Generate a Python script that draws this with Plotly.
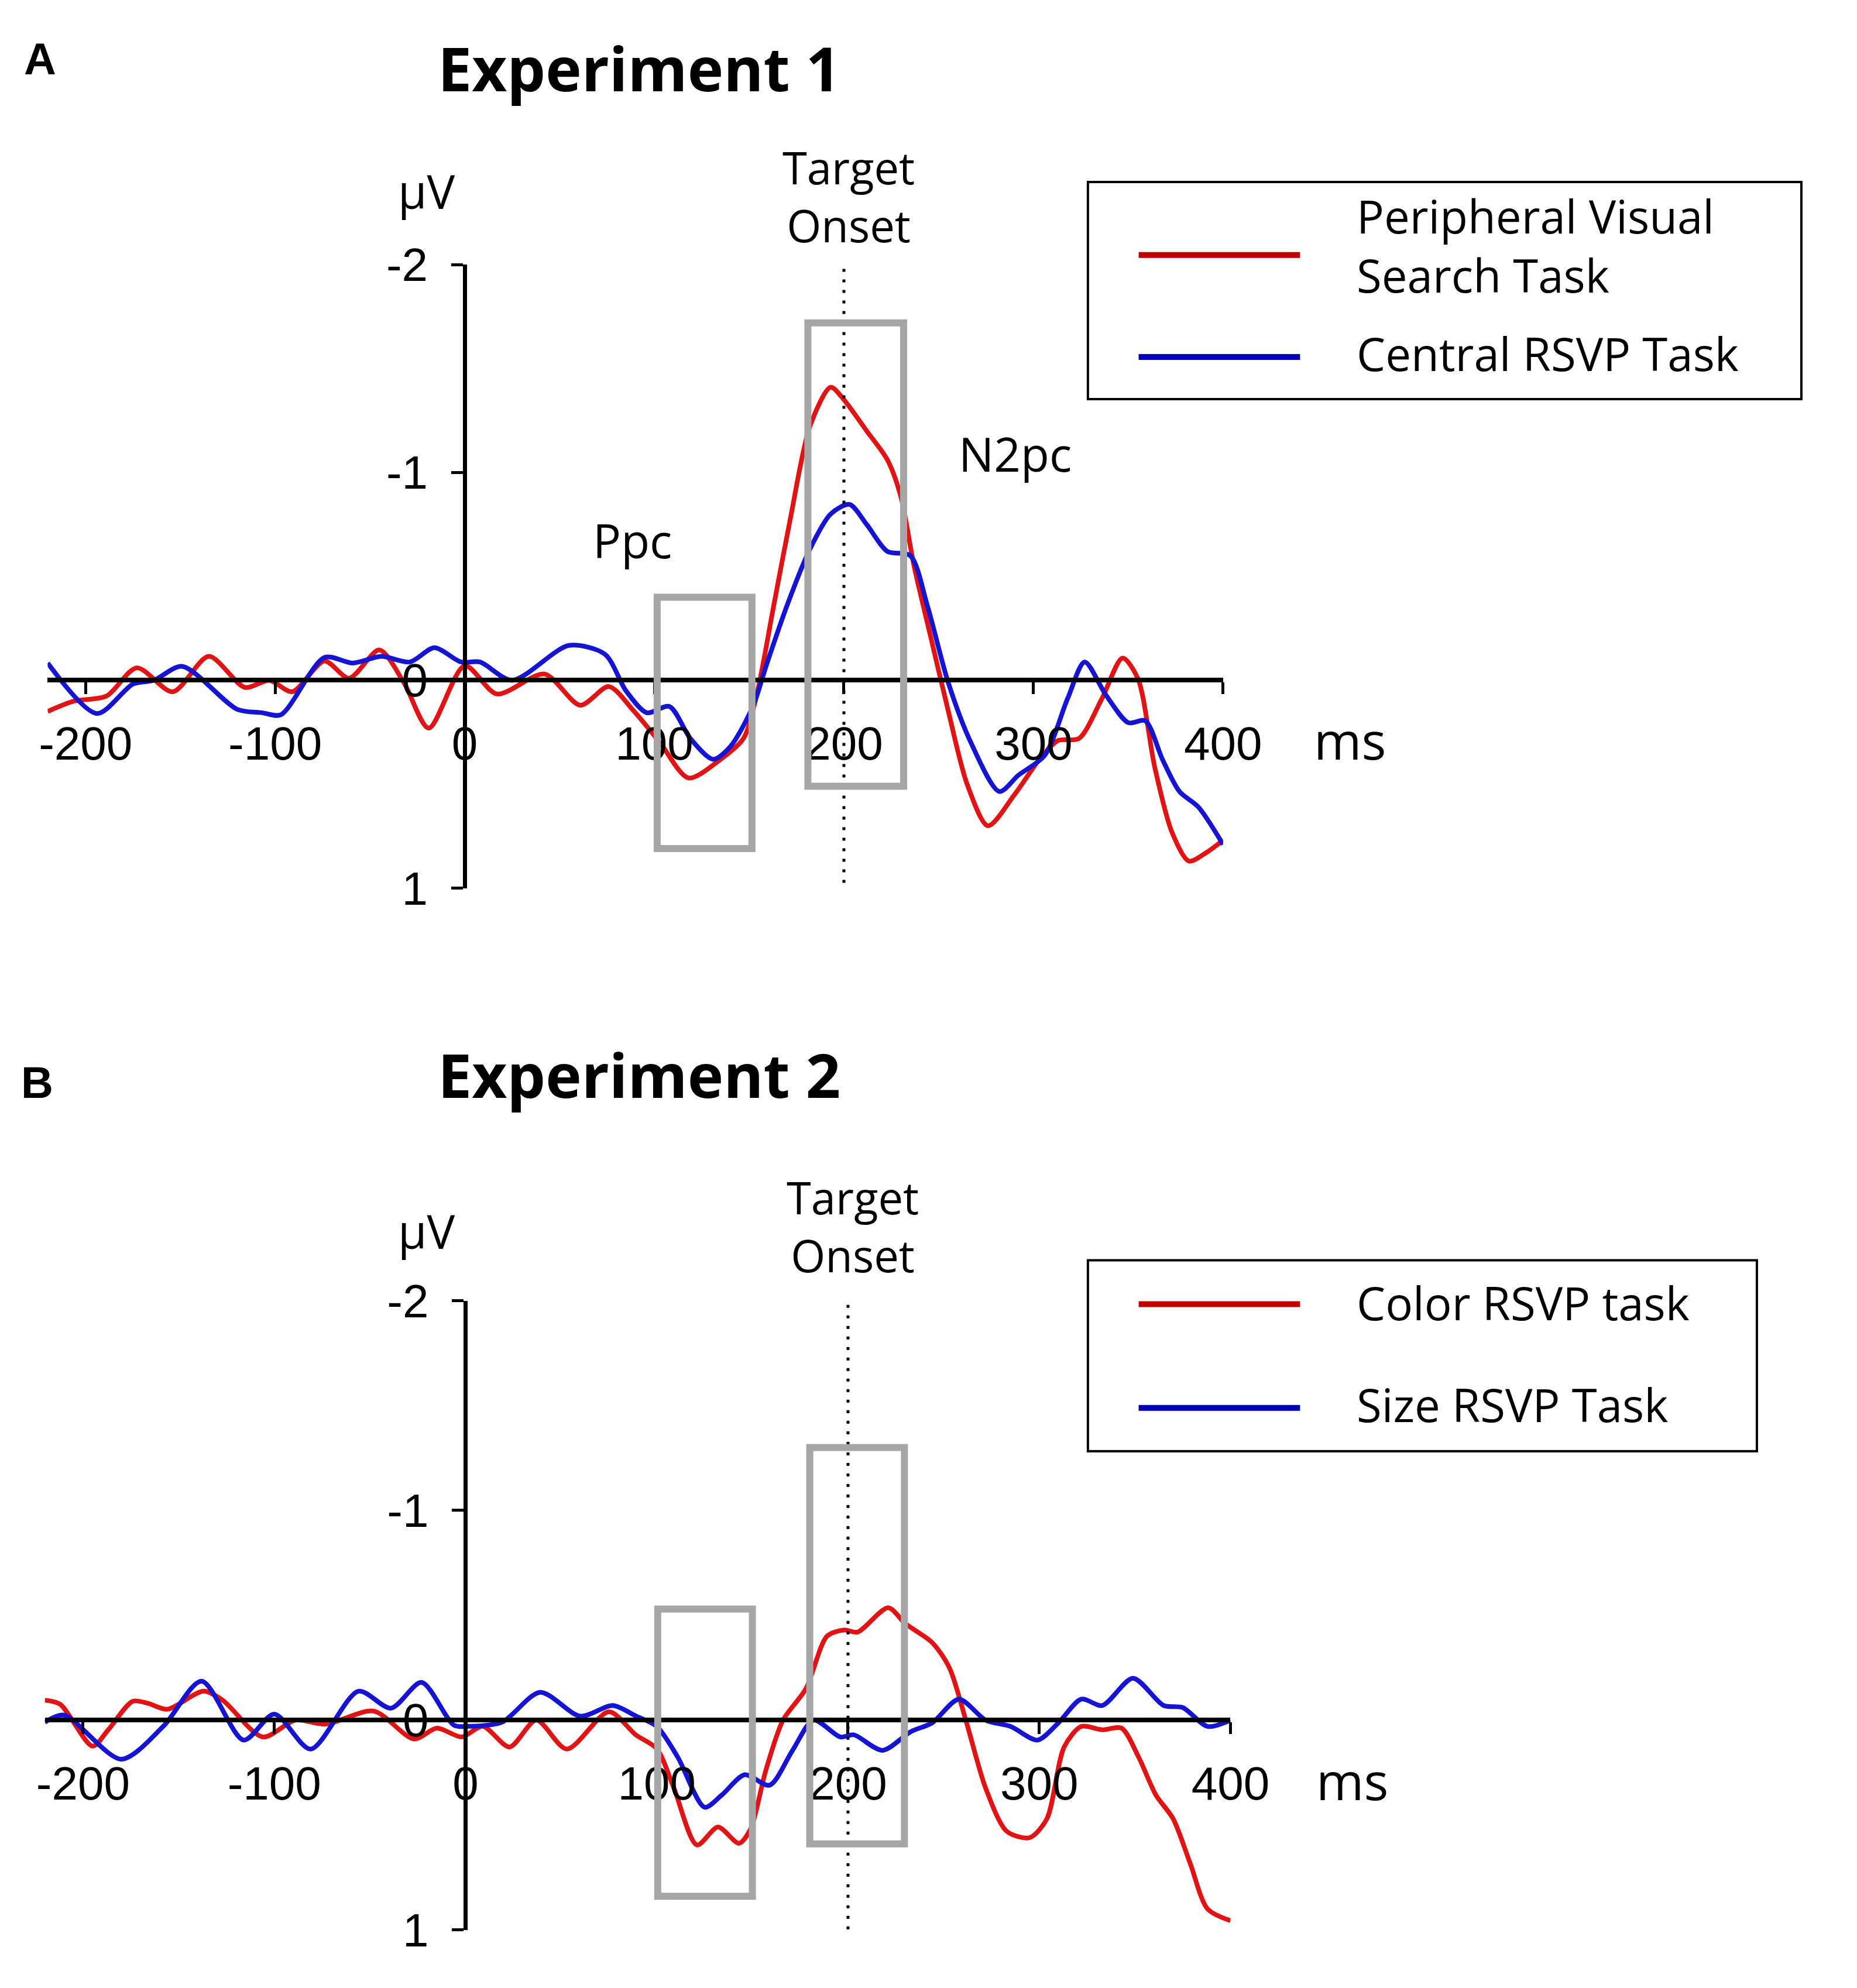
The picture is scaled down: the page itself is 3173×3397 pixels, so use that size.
import plotly.graph_objects as go

W, H = 3173, 3397

# ---- data (µV, positive plotted downward) ----
red_a_t = [-220, -206, -189, -173, -154, -135, -116, -103, -91, -74, -61, -45, -32, -19, 0, 17, 42, 61, 76, 89,
           103, 118, 135, 147, 154, 163, 172, 182, 193, 200, 212, 223, 230, 237, 246, 255, 265, 276, 290, 304,
           313, 324, 336, 347, 355, 364, 373, 382, 391, 400]
red_a_v = [0.15, 0.10, 0.076, -0.06, 0.055, -0.115, 0.034, 0.0, 0.055, -0.093, -0.01, -0.146, 0.013, 0.23, -0.07,
           0.066, -0.03, 0.12, 0.03, 0.146, 0.30, 0.47, 0.38, 0.28, 0.07, -0.36, -0.79, -1.22, -1.41, -1.35,
           -1.20, -1.06, -0.885, -0.55, -0.20, 0.146, 0.50, 0.70, 0.55, 0.37, 0.29, 0.28, 0.09, -0.107, -0.01,
           0.42, 0.73, 0.87, 0.83, 0.77]

blue_a_t = [-220, -194, -175, -164, -149, -120, -107, -97, -74, -59, -44, -29, -16, -2, 8, 25, 55, 74, 85, 96,
            108, 119, 131, 140, 152, 159, 170, 182, 193, 203, 212, 223, 235, 244, 255, 267, 282, 292, 306, 318,
            327, 338, 350, 359, 368, 377, 387, 400]
blue_a_v = [-0.083, 0.16, 0.018, 0.0, -0.067, 0.14, 0.156, 0.166, -0.11, -0.083, -0.115, -0.088, -0.157, -0.088,
            -0.088, 0.0, -0.168, -0.125, 0.05, 0.156, 0.126, 0.28, 0.38, 0.32, 0.126, -0.07, -0.36, -0.63, -0.80,
            -0.846, -0.75, -0.62, -0.60, -0.36, 0.01, 0.30, 0.535, 0.457, 0.36, 0.088, -0.088, 0.068, 0.204,
            0.195, 0.38, 0.535, 0.61, 0.79]

red_b_t = [-220, -212, -195, -187, -174, -166, -156, -137, -127, -106, -89, -73, -48, -27, -15, -2, 9, 23, 37, 53,
           75, 89, 100, 109, 121, 132, 143, 149, 157, 166, 178, 189, 198, 205, 221, 230, 244, 253, 262, 272,
           283, 295, 304, 313, 322, 333, 343, 352, 361, 370, 379, 388, 400]
red_b_v = [-0.095, -0.076, 0.124, 0.048, -0.09, -0.08, -0.052, -0.138, -0.095, 0.08, 0.0, 0.019, -0.043, 0.09,
           0.038, 0.08, 0.029, 0.128, 0.0, 0.138, -0.04, 0.07, 0.136, 0.325, 0.595, 0.51, 0.587, 0.52, 0.24,
           0.0, -0.15, -0.40, -0.43, -0.42, -0.536, -0.46, -0.37, -0.25, 0.013, 0.325, 0.53, 0.56, 0.47, 0.128,
           0.03, 0.046, 0.038, 0.177, 0.357, 0.47, 0.685, 0.90, 0.956]

blue_b_t = [-220, -210, -180, -158, -138, -116, -100, -81, -56, -39, -23, -6, 2, 19, 39, 60, 77, 89, 100, 111,
            125, 134, 146, 159, 171, 182, 196, 203, 218, 233, 244, 258, 272, 285, 299, 310, 322, 333, 349, 365,
            375, 388, 400]
blue_b_v = [0.01, -0.024, 0.186, 0.029, -0.186, 0.095, -0.029, 0.138, -0.138, -0.057, -0.18, 0.024, 0.029, 0.01,
            -0.133, -0.019, -0.07, -0.02, 0.03, 0.177, 0.415, 0.357, 0.26, 0.31, 0.144, 0.0, 0.08, 0.07, 0.144,
            0.054, 0.013, -0.10, 0.0, 0.03, 0.095, 0.013, -0.10, -0.07, -0.20, -0.07, -0.06, 0.03, 0.0]

names_a = ["Peripheral Visual<br>Search Task", "Central RSVP Task"]
names_b = ["Color RSVP task", "Size RSVP Task"]
titles = ["Experiment 1", "Experiment 2"]
panel_labels = ["A", "B"]

# analysis windows (ms from, ms to, µV top, µV bottom)
ppc_a = (101.5, 151.5, -0.40, 0.81)
n2pc_a = (181, 231.5, -1.72, 0.51)
ppc_b = (100.5, 150, -0.53, 0.84)
n2pc_b = (180, 229.5, -1.30, 0.59)

x_ticks = [-200, -100, 0, 100, 200, 300, 400]
y_ticks = [-2, -1, 0, 1]
XR = [-220, 400]
YR = [1, -2]

RED = "#e01414"
BLUE = "#1414d2"
RED_KEY = "#c00000"
BLUE_KEY = "#0000b4"
GRAY = "#a6a6a6"
FONT = "Open Sans"
TICKFONT = "Liberation Sans"

# pixel layout of each panel: x of -220 / 400, y of -2 / 1, plus text spots
panels = [
    dict(x0=61, x1=2122, ytop=411, ybot=1505, title_y=65, letter=(48, 50),
         onset_y=291, uv=(725, 281), ms=(2344, 1245)),
    dict(x0=56, x1=2135, ytop=2229, ybot=3333, title_y=1831, letter=(43, 1846),
         onset_y=2098, uv=(725, 2106), ms=(2348, 3070)),
]


def px(x):
    return x / W


def py(y):
    return 1 - y / H


def text(x, y, s, size=80, family=FONT, bold=False, xanchor="center", align="center"):
    fig.add_annotation(x=px(x), y=py(y), xref="paper", yref="paper", text=f"<b>{s}</b>" if bold else s,
                       showarrow=False, xanchor=xanchor, yanchor="middle", align=align,
                       font=dict(family=family, size=size, color="black"))


fig = go.Figure()
series = [(red_a_t, red_a_v, blue_a_t, blue_a_v), (red_b_t, red_b_v, blue_b_t, blue_b_v)]
boxes = [(ppc_a, n2pc_a), (ppc_b, n2pc_b)]

for i, p in enumerate(panels):
    n = i + 1
    sfx = "" if n == 1 else str(n)
    xa, ya = "x" + sfx, "y" + sfx
    xdom = [px(p["x0"]), px(p["x1"])]
    ydom = [py(p["ybot"]), py(p["ytop"])]
    # where zero falls in paper coords
    x_zero = xdom[0] + (0 - XR[0]) / (XR[1] - XR[0]) * (xdom[1] - xdom[0])
    y_zero = ydom[0] + (0 - YR[0]) / (YR[1] - YR[0]) * (ydom[1] - ydom[0])

    axis_font = dict(family=TICKFONT, size=80, color="black")
    fig.layout["xaxis" + sfx] = dict(
        domain=xdom, range=XR, anchor="free", position=y_zero, showgrid=False, zeroline=False,
        showline=True, linecolor="black", linewidth=8, ticks="outside", ticklen=20, tickwidth=5,
        tickcolor="black", tickvals=x_ticks, ticktext=[str(v) for v in x_ticks], tickfont=axis_font,
        ticklabelstandoff=16,
    )
    fig.layout["yaxis" + sfx] = dict(
        domain=ydom, range=YR, anchor="free", position=x_zero, showgrid=False, zeroline=False,
        showline=True, linecolor="black", linewidth=7, ticks="outside", ticklen=20, tickwidth=5,
        tickcolor="black", tickvals=y_ticks, ticktext=[str(v) for v in y_ticks], tickfont=axis_font,
        ticklabelstandoff=24,
    )

    rt, rv, bt, bv = series[i]
    fig.add_trace(go.Scatter(x=rt, y=rv, mode="lines", line=dict(color=RED, width=8, shape="spline", smoothing=0.8),
                             xaxis=xa, yaxis=ya, showlegend=False))
    fig.add_trace(go.Scatter(x=bt, y=bv, mode="lines", line=dict(color=BLUE, width=8, shape="spline", smoothing=0.8),
                             xaxis=xa, yaxis=ya, showlegend=False))

    # target onset dotted line
    fig.add_shape(type="line", xref=xa, yref=ya, x0=200, x1=200, y0=-2.03, y1=1.0,
                  line=dict(color="black", width=5, dash="5px,13px"))
    for b in boxes[i]:
        fig.add_shape(type="rect", xref=xa, yref=ya, x0=b[0], x1=b[1], y0=b[2], y1=b[3],
                      line=dict(color=GRAY, width=12), fillcolor="rgba(0,0,0,0)")

    onset_x = p["x0"] + (200 - XR[0]) / (XR[1] - XR[0]) * (p["x1"] - p["x0"]) + 8
    text(onset_x, p["onset_y"], "Target<br>Onset", size=76)
    text(*p["uv"], "µV")
    text(*p["ms"], "ms", size=88)

    text(1098, p["title_y"], titles[i], size=104, bold=True)
    text(*p["letter"], panel_labels[i], size=76, family="Liberation Sans", bold=True)

# component labels in panel A
text(1086, 894, "Ppc")
text(1757, 742, "N2pc")

# legends drawn as boxed keys
legends = [
    dict(box=(1885, 266, 3136, 647), rows=[394, 573], texts=[377, 567], names=names_a),
    dict(box=(1885, 2158, 3058, 2493), rows=[2235, 2417], texts=[2233, 2411], names=names_b),
]
for lg in legends:
    bx0, by0, bx1, by1 = lg["box"]
    fig.add_shape(type="rect", xref="paper", yref="paper", x0=px(bx0), x1=px(bx1), y0=py(by1), y1=py(by0),
                  line=dict(color="black", width=4), fillcolor="white", layer="below")
    for ly, ty, s, col in zip(lg["rows"], lg["texts"], lg["names"], [RED_KEY, BLUE_KEY]):
        fig.add_shape(type="line", xref="paper", yref="paper", x0=px(1974), x1=px(2257), y0=py(ly), y1=py(ly),
                      line=dict(color=col, width=10))
        text(2354, ty, s, size=78, xanchor="left", align="left")

fig.update_layout(width=W, height=H, margin=dict(l=0, r=0, t=0, b=0), paper_bgcolor="white",
                  plot_bgcolor="rgba(0,0,0,0)", showlegend=False)

fig.write_html("out.html")
